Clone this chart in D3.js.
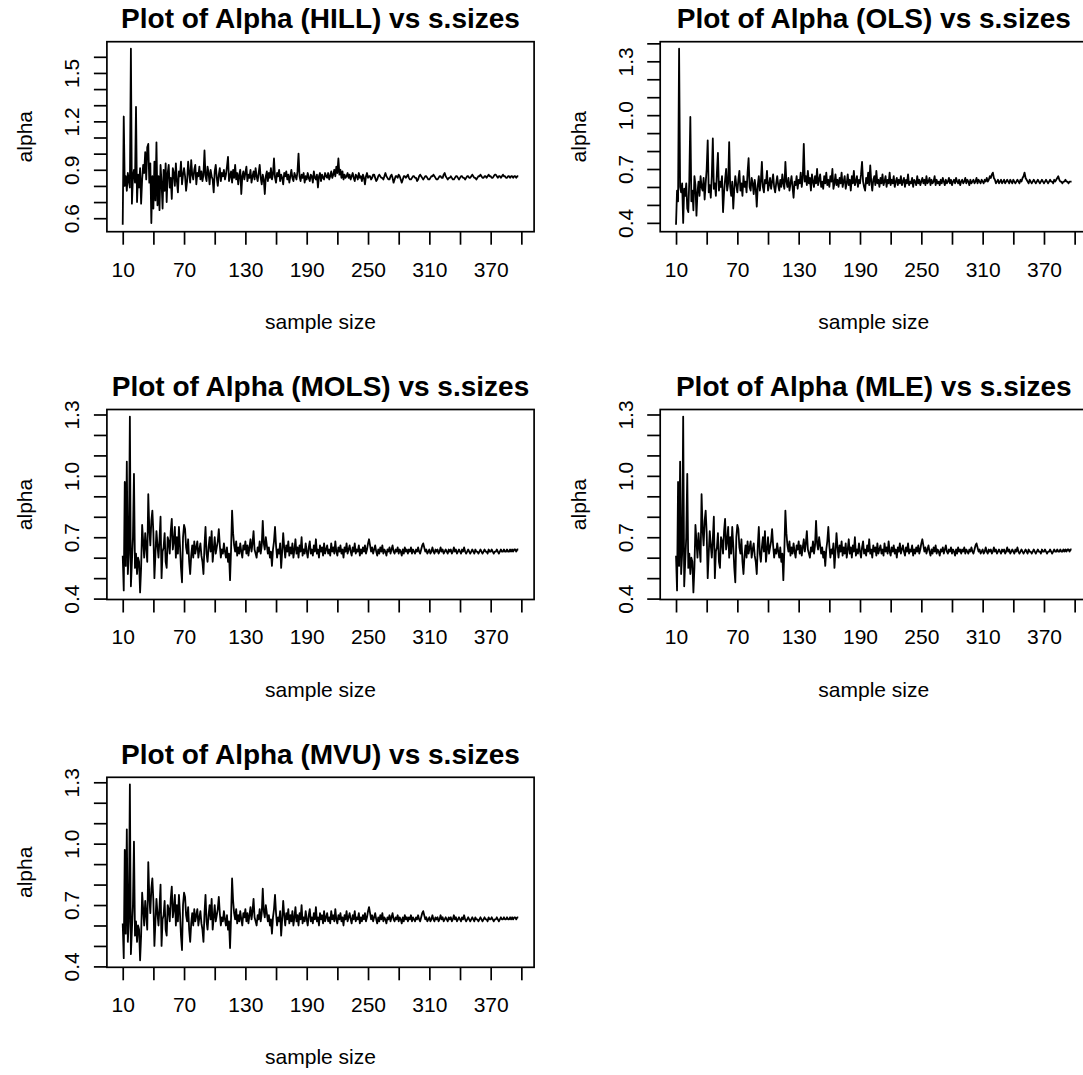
<!DOCTYPE html>
<html>
<head>
<meta charset="utf-8">
<script src="https://cdn.jsdelivr.net/npm/d3@7"></script>
<style>
  body { margin: 0; background: #fff; }
  svg { display: block; font-family: "Liberation Sans", Arial, Helvetica, sans-serif; }
</style>
</head>
<body>
<div id="chart"></div>
<script>
// sample sizes (x) shared by every panel
const sampleSizes = [
  10,11,12,13,14,15,16,17,18,19,20,21,22,23,24,25,26,27,28,29,
  30,31,32,33,34,35,36,37,38,39,40,41,42,43,44,45,46,47,48,49,
  50,51,52,53,54,55,56,57,58,59,60,61,62,63,64,65,66,67,68,69,
  70,71,72,73,74,75,76,77,78,79,80,81,82,83,84,85,86,87,88,89,
  90,91,92,93,94,95,96,97,98,99,100,101,102,103,104,105,106,107,108,109,
  110,111,112,113,114,115,116,117,118,119,120,121,122,123,124,125,126,127,128,129,
  130,131,132,133,134,135,136,137,138,139,140,141,142,143,144,145,146,147,148,149,
  150,151,152,153,154,155,156,157,158,159,160,161,162,163,164,165,166,167,168,169,
  170,171,172,173,174,175,176,177,178,179,180,181,182,183,184,185,186,187,188,189,
  190,191,192,193,194,195,196,197,198,199,200,201,202,203,204,205,206,207,208,209,
  210,211,212,213,214,215,216,217,218,219,220,221,222,223,224,225,226,227,228,229,
  230,231,232,233,234,235,236,237,238,239,240,241,242,243,244,245,246,247,248,249,
  250,251,252,253,254,255,256,257,258,259,260,261,262,263,264,265,266,267,268,269,
  270,271,272,273,274,275,276,277,278,279,280,281,282,283,284,285,286,287,288,289,
  290,291,292,293,294,295,296,297,298,299,300,301,302,303,304,305,306,307,308,309,
  310,311,312,313,314,315,316,317,318,319,320,321,322,323,324,325,326,327,328,329,
  330,331,332,333,334,335,336,337,338,339,340,341,342,343,344,345,346,347,348,349,
  350,351,352,353,354,355,356,357,358,359,360,361,362,363,364,365,366,367,368,369,
  370,371,372,373,374,375,376,377,378,379,380,381,382,383,384,385,386,387,388,389,
  390,391,392,393,394,395,396,397];

const alphaHill = [
  0.56,1.23,0.80,0.86,0.77,0.88,0.83,0.79,1.65,0.69,0.86,0.90,0.82,1.29,0.70,0.87,0.79,0.91,0.69,0.84,
  0.93,0.88,1.01,0.84,1.04,1.06,0.82,0.94,0.57,0.86,0.66,0.95,0.71,1.07,0.68,0.86,0.65,0.93,0.82,0.66,
  0.90,0.77,0.94,0.70,0.88,0.93,0.79,0.85,0.72,0.91,0.88,0.80,0.94,0.83,0.76,0.89,0.86,0.95,0.81,0.87,
  0.91,0.86,0.77,0.83,0.95,0.88,0.82,0.96,0.87,0.84,0.90,0.93,0.81,0.88,0.86,0.92,0.84,0.89,0.83,0.87,
  1.02,0.86,0.83,0.92,0.88,0.81,0.90,0.86,0.84,0.76,0.89,0.93,0.85,0.80,0.87,0.91,0.83,0.88,0.86,0.90,
  0.84,0.87,0.92,0.98,0.83,0.86,0.89,0.82,0.90,0.85,0.93,0.84,0.88,0.81,0.87,0.90,0.75,0.86,0.89,0.84,
  0.88,0.92,0.83,0.87,0.85,0.90,0.82,0.86,0.89,0.84,0.91,0.86,0.83,0.88,0.93,0.85,0.81,0.87,0.84,0.75,
  0.86,0.89,0.83,0.88,0.85,0.91,0.84,0.87,0.97,0.85,0.82,0.88,0.86,0.90,0.83,0.87,0.85,0.81,0.88,0.86,
  0.89,0.84,0.87,0.82,0.86,0.90,0.85,0.83,0.88,0.86,0.84,0.89,1.00,0.86,0.83,0.87,0.85,0.88,0.82,0.86,
  0.84,0.88,0.85,0.83,0.87,0.86,0.82,0.89,0.85,0.84,0.87,0.79,0.86,0.88,0.83,0.87,0.85,0.84,0.88,0.86,
  0.85,0.88,0.84,0.86,0.89,0.85,0.87,0.90,0.86,0.92,0.88,0.97,0.87,0.90,0.85,0.89,0.84,0.87,0.85,0.86,
  0.88,0.85,0.87,0.84,0.86,0.88,0.85,0.83,0.87,0.86,0.84,0.88,0.85,0.86,0.83,0.87,0.85,0.81,0.86,0.88,
  0.85,0.86,0.86,0.84,0.85,0.87,0.87,0.85,0.83,0.84,0.86,0.87,0.86,0.85,0.85,0.84,0.86,0.88,0.86,0.85,
  0.84,0.84,0.86,0.87,0.85,0.82,0.84,0.86,0.86,0.85,0.87,0.86,0.84,0.82,0.84,0.86,0.86,0.85,0.86,0.87,
  0.85,0.84,0.84,0.85,0.86,0.86,0.85,0.85,0.83,0.84,0.86,0.87,0.86,0.85,0.84,0.85,0.86,0.86,0.85,0.84,
  0.84,0.85,0.86,0.86,0.87,0.86,0.85,0.84,0.84,0.85,0.86,0.86,0.85,0.85,0.87,0.88,0.86,0.85,0.84,0.85,
  0.85,0.86,0.85,0.84,0.84,0.85,0.86,0.86,0.85,0.84,0.85,0.86,0.86,0.85,0.85,0.84,0.85,0.86,0.86,0.85,
  0.85,0.86,0.87,0.86,0.85,0.85,0.84,0.85,0.86,0.86,0.87,0.86,0.85,0.85,0.86,0.86,0.85,0.86,0.87,0.86,
  0.86,0.85,0.85,0.86,0.87,0.87,0.86,0.85,0.86,0.86,0.85,0.86,0.87,0.86,0.86,0.85,0.85,0.86,0.86,0.85,
  0.86,0.86,0.85,0.86,0.86,0.85,0.86,0.86];

const alphaOls = [
  0.39,0.58,0.52,1.37,0.60,0.57,0.62,0.40,0.59,0.55,0.62,0.48,0.46,0.64,0.99,0.52,0.58,0.47,0.66,0.61,
  0.44,0.57,0.63,0.55,0.66,0.60,0.58,0.65,0.53,0.62,0.70,0.86,0.57,0.61,0.54,0.66,0.87,0.59,0.62,0.55,
  0.68,0.79,0.58,0.63,0.60,0.66,0.46,0.57,0.64,0.70,0.58,0.62,0.85,0.60,0.55,0.63,0.48,0.59,0.66,0.61,
  0.57,0.64,0.69,0.58,0.62,0.55,0.66,0.60,0.63,0.57,0.68,0.76,0.60,0.58,0.65,0.62,0.56,0.64,0.59,0.49,
  0.61,0.66,0.58,0.63,0.74,0.60,0.57,0.64,0.62,0.69,0.58,0.61,0.65,0.59,0.63,0.67,0.60,0.57,0.62,0.66,
  0.61,0.58,0.64,0.60,0.67,0.62,0.59,0.74,0.63,0.60,0.65,0.58,0.62,0.66,0.60,0.54,0.63,0.61,0.66,0.59,
  0.64,0.62,0.68,0.60,0.65,0.84,0.63,0.66,0.61,0.69,0.62,0.65,0.58,0.67,0.63,0.60,0.66,0.62,0.70,0.61,
  0.64,0.67,0.60,0.63,0.59,0.66,0.62,0.68,0.61,0.64,0.60,0.66,0.63,0.70,0.59,0.62,0.67,0.61,0.64,0.60,
  0.65,0.62,0.68,0.60,0.63,0.66,0.59,0.62,0.67,0.61,0.64,0.58,0.66,0.62,0.69,0.61,0.63,0.66,0.60,0.64,
  0.62,0.67,0.74,0.63,0.60,0.58,0.65,0.62,0.68,0.61,0.72,0.63,0.58,0.64,0.66,0.61,0.69,0.62,0.64,0.60,
  0.65,0.62,0.67,0.61,0.63,0.66,0.60,0.64,0.62,0.68,0.61,0.64,0.62,0.66,0.60,0.63,0.65,0.61,0.64,0.62,
  0.66,0.61,0.63,0.65,0.60,0.64,0.62,0.67,0.61,0.63,0.62,0.65,0.60,0.64,0.63,0.61,0.66,0.62,0.64,0.61,
  0.63,0.65,0.62,0.64,0.61,0.66,0.62,0.63,0.65,0.61,0.64,0.62,0.63,0.66,0.61,0.64,0.62,0.63,0.61,0.64,
  0.62,0.65,0.63,0.61,0.64,0.62,0.63,0.65,0.62,0.64,0.61,0.63,0.64,0.62,0.65,0.63,0.62,0.64,0.61,0.63,
  0.64,0.62,0.63,0.65,0.62,0.64,0.63,0.61,0.64,0.62,0.63,0.64,0.62,0.63,0.65,0.62,0.64,0.63,0.62,0.64,
  0.63,0.62,0.64,0.63,0.65,0.63,0.64,0.66,0.65,0.67,0.68,0.65,0.64,0.62,0.63,0.64,0.62,0.63,0.64,0.62,
  0.63,0.64,0.62,0.63,0.64,0.63,0.62,0.64,0.63,0.62,0.64,0.63,0.62,0.63,0.64,0.63,0.62,0.64,0.63,0.65,
  0.66,0.68,0.65,0.64,0.63,0.62,0.64,0.63,0.62,0.63,0.64,0.63,0.62,0.63,0.64,0.63,0.62,0.63,0.64,0.63,
  0.62,0.63,0.64,0.63,0.62,0.63,0.64,0.63,0.63,0.62,0.64,0.63,0.64,0.65,0.66,0.64,0.63,0.63,0.62,0.63,
  0.63,0.64,0.63,0.63,0.62,0.63,0.63,0.63];

const alphaMols = [
  0.61,0.44,0.97,0.56,1.07,0.52,0.62,1.29,0.46,0.58,0.70,1.01,0.55,0.62,0.52,0.60,0.58,0.43,0.55,0.76,
  0.68,0.60,0.72,0.65,0.58,0.91,0.74,0.66,0.78,0.83,0.72,0.50,0.62,0.73,0.66,0.60,0.69,0.80,0.50,0.63,
  0.65,0.72,0.58,0.55,0.70,0.68,0.62,0.73,0.79,0.64,0.68,0.75,0.60,0.70,0.62,0.75,0.66,0.55,0.48,0.70,
  0.76,0.74,0.65,0.62,0.69,0.58,0.52,0.61,0.66,0.60,0.68,0.62,0.65,0.68,0.60,0.64,0.67,0.61,0.58,0.52,
  0.66,0.75,0.62,0.58,0.65,0.70,0.63,0.73,0.58,0.64,0.70,0.62,0.65,0.68,0.74,0.66,0.60,0.64,0.62,0.67,
  0.63,0.60,0.65,0.58,0.62,0.49,0.64,0.83,0.72,0.66,0.63,0.68,0.61,0.65,0.62,0.67,0.63,0.60,0.66,0.64,
  0.68,0.62,0.66,0.61,0.65,0.69,0.63,0.67,0.73,0.64,0.62,0.60,0.65,0.63,0.68,0.62,0.66,0.78,0.67,0.64,
  0.70,0.66,0.62,0.65,0.60,0.63,0.56,0.64,0.68,0.75,0.66,0.60,0.64,0.62,0.67,0.55,0.63,0.72,0.65,0.60,
  0.66,0.63,0.68,0.61,0.65,0.62,0.67,0.60,0.64,0.69,0.62,0.65,0.60,0.66,0.63,0.70,0.61,0.64,0.62,0.67,
  0.63,0.60,0.65,0.68,0.62,0.64,0.61,0.66,0.63,0.69,0.62,0.64,0.60,0.66,0.63,0.65,0.61,0.67,0.62,0.64,
  0.66,0.62,0.64,0.61,0.67,0.63,0.65,0.62,0.68,0.63,0.61,0.65,0.63,0.66,0.62,0.64,0.60,0.65,0.63,0.67,
  0.62,0.64,0.66,0.63,0.61,0.65,0.63,0.67,0.62,0.64,0.63,0.66,0.61,0.64,0.62,0.65,0.63,0.66,0.62,0.64,
  0.67,0.69,0.66,0.63,0.65,0.62,0.64,0.66,0.63,0.61,0.64,0.62,0.65,0.63,0.66,0.62,0.64,0.63,0.61,0.64,
  0.63,0.65,0.62,0.64,0.66,0.63,0.62,0.64,0.63,0.65,0.62,0.64,0.63,0.61,0.64,0.62,0.65,0.63,0.64,0.62,
  0.64,0.63,0.65,0.62,0.64,0.63,0.62,0.64,0.63,0.65,0.63,0.62,0.64,0.66,0.67,0.65,0.63,0.64,0.62,0.63,
  0.64,0.62,0.63,0.65,0.63,0.62,0.64,0.63,0.64,0.62,0.63,0.65,0.63,0.64,0.62,0.63,0.64,0.63,0.62,0.64,
  0.63,0.64,0.62,0.63,0.65,0.63,0.64,0.62,0.63,0.64,0.63,0.62,0.64,0.63,0.65,0.63,0.62,0.63,0.64,0.63,
  0.62,0.63,0.64,0.63,0.62,0.64,0.63,0.63,0.62,0.63,0.64,0.63,0.62,0.63,0.64,0.63,0.63,0.62,0.64,0.63,
  0.63,0.64,0.63,0.62,0.63,0.63,0.64,0.63,0.62,0.63,0.64,0.63,0.63,0.64,0.63,0.63,0.64,0.63,0.63,0.64,
  0.63,0.64,0.63,0.64,0.64,0.63,0.64,0.64];

const alphaMle = [
  0.61,0.44,0.97,0.56,1.07,0.52,0.62,1.29,0.46,0.58,0.70,1.01,0.55,0.62,0.52,0.60,0.58,0.43,0.55,0.76,
  0.68,0.60,0.72,0.65,0.58,0.91,0.74,0.66,0.78,0.83,0.72,0.50,0.62,0.73,0.66,0.60,0.69,0.80,0.50,0.63,
  0.65,0.72,0.58,0.55,0.70,0.68,0.62,0.73,0.79,0.64,0.68,0.75,0.60,0.70,0.62,0.75,0.66,0.55,0.48,0.70,
  0.76,0.74,0.65,0.62,0.69,0.58,0.52,0.61,0.66,0.60,0.68,0.62,0.65,0.68,0.60,0.64,0.67,0.61,0.58,0.52,
  0.66,0.75,0.62,0.58,0.65,0.70,0.63,0.73,0.58,0.64,0.70,0.62,0.65,0.68,0.74,0.66,0.60,0.64,0.62,0.67,
  0.63,0.60,0.65,0.58,0.62,0.49,0.64,0.83,0.72,0.66,0.63,0.68,0.61,0.65,0.62,0.67,0.63,0.60,0.66,0.64,
  0.68,0.62,0.66,0.61,0.65,0.69,0.63,0.67,0.73,0.64,0.62,0.60,0.65,0.63,0.68,0.62,0.66,0.78,0.67,0.64,
  0.70,0.66,0.62,0.65,0.60,0.63,0.56,0.64,0.68,0.75,0.66,0.60,0.64,0.62,0.67,0.55,0.63,0.72,0.65,0.60,
  0.66,0.63,0.68,0.61,0.65,0.62,0.67,0.60,0.64,0.69,0.62,0.65,0.60,0.66,0.63,0.70,0.61,0.64,0.62,0.67,
  0.63,0.60,0.65,0.68,0.62,0.64,0.61,0.66,0.63,0.69,0.62,0.64,0.60,0.66,0.63,0.65,0.61,0.67,0.62,0.64,
  0.66,0.62,0.64,0.61,0.67,0.63,0.65,0.62,0.68,0.63,0.61,0.65,0.63,0.66,0.62,0.64,0.60,0.65,0.63,0.67,
  0.62,0.64,0.66,0.63,0.61,0.65,0.63,0.67,0.62,0.64,0.63,0.66,0.61,0.64,0.62,0.65,0.63,0.66,0.62,0.64,
  0.67,0.69,0.66,0.63,0.65,0.62,0.64,0.66,0.63,0.61,0.64,0.62,0.65,0.63,0.66,0.62,0.64,0.63,0.61,0.64,
  0.63,0.65,0.62,0.64,0.66,0.63,0.62,0.64,0.63,0.65,0.62,0.64,0.63,0.61,0.64,0.62,0.65,0.63,0.64,0.62,
  0.64,0.63,0.65,0.62,0.64,0.63,0.62,0.64,0.63,0.65,0.63,0.62,0.64,0.66,0.67,0.65,0.63,0.64,0.62,0.63,
  0.64,0.62,0.63,0.65,0.63,0.62,0.64,0.63,0.64,0.62,0.63,0.65,0.63,0.64,0.62,0.63,0.64,0.63,0.62,0.64,
  0.63,0.64,0.62,0.63,0.65,0.63,0.64,0.62,0.63,0.64,0.63,0.62,0.64,0.63,0.65,0.63,0.62,0.63,0.64,0.63,
  0.62,0.63,0.64,0.63,0.62,0.64,0.63,0.63,0.62,0.63,0.64,0.63,0.62,0.63,0.64,0.63,0.63,0.62,0.64,0.63,
  0.63,0.64,0.63,0.62,0.63,0.63,0.64,0.63,0.62,0.63,0.64,0.63,0.63,0.64,0.63,0.63,0.64,0.63,0.63,0.64,
  0.63,0.64,0.63,0.64,0.64,0.63,0.64,0.64];

const alphaMvu = [
  0.61,0.44,0.97,0.56,1.07,0.52,0.62,1.29,0.46,0.58,0.70,1.01,0.55,0.62,0.52,0.60,0.58,0.43,0.55,0.76,
  0.68,0.60,0.72,0.65,0.58,0.91,0.74,0.66,0.78,0.83,0.72,0.50,0.62,0.73,0.66,0.60,0.69,0.80,0.50,0.63,
  0.65,0.72,0.58,0.55,0.70,0.68,0.62,0.73,0.79,0.64,0.68,0.75,0.60,0.70,0.62,0.75,0.66,0.55,0.48,0.70,
  0.76,0.74,0.65,0.62,0.69,0.58,0.52,0.61,0.66,0.60,0.68,0.62,0.65,0.68,0.60,0.64,0.67,0.61,0.58,0.52,
  0.66,0.75,0.62,0.58,0.65,0.70,0.63,0.73,0.58,0.64,0.70,0.62,0.65,0.68,0.74,0.66,0.60,0.64,0.62,0.67,
  0.63,0.60,0.65,0.58,0.62,0.49,0.64,0.83,0.72,0.66,0.63,0.68,0.61,0.65,0.62,0.67,0.63,0.60,0.66,0.64,
  0.68,0.62,0.66,0.61,0.65,0.69,0.63,0.67,0.73,0.64,0.62,0.60,0.65,0.63,0.68,0.62,0.66,0.78,0.67,0.64,
  0.70,0.66,0.62,0.65,0.60,0.63,0.56,0.64,0.68,0.75,0.66,0.60,0.64,0.62,0.67,0.55,0.63,0.72,0.65,0.60,
  0.66,0.63,0.68,0.61,0.65,0.62,0.67,0.60,0.64,0.69,0.62,0.65,0.60,0.66,0.63,0.70,0.61,0.64,0.62,0.67,
  0.63,0.60,0.65,0.68,0.62,0.64,0.61,0.66,0.63,0.69,0.62,0.64,0.60,0.66,0.63,0.65,0.61,0.67,0.62,0.64,
  0.66,0.62,0.64,0.61,0.67,0.63,0.65,0.62,0.68,0.63,0.61,0.65,0.63,0.66,0.62,0.64,0.60,0.65,0.63,0.67,
  0.62,0.64,0.66,0.63,0.61,0.65,0.63,0.67,0.62,0.64,0.63,0.66,0.61,0.64,0.62,0.65,0.63,0.66,0.62,0.64,
  0.67,0.69,0.66,0.63,0.65,0.62,0.64,0.66,0.63,0.61,0.64,0.62,0.65,0.63,0.66,0.62,0.64,0.63,0.61,0.64,
  0.63,0.65,0.62,0.64,0.66,0.63,0.62,0.64,0.63,0.65,0.62,0.64,0.63,0.61,0.64,0.62,0.65,0.63,0.64,0.62,
  0.64,0.63,0.65,0.62,0.64,0.63,0.62,0.64,0.63,0.65,0.63,0.62,0.64,0.66,0.67,0.65,0.63,0.64,0.62,0.63,
  0.64,0.62,0.63,0.65,0.63,0.62,0.64,0.63,0.64,0.62,0.63,0.65,0.63,0.64,0.62,0.63,0.64,0.63,0.62,0.64,
  0.63,0.64,0.62,0.63,0.65,0.63,0.64,0.62,0.63,0.64,0.63,0.62,0.64,0.63,0.65,0.63,0.62,0.63,0.64,0.63,
  0.62,0.63,0.64,0.63,0.62,0.64,0.63,0.63,0.62,0.63,0.64,0.63,0.62,0.63,0.64,0.63,0.63,0.62,0.64,0.63,
  0.63,0.64,0.63,0.62,0.63,0.63,0.64,0.63,0.62,0.63,0.64,0.63,0.63,0.64,0.63,0.63,0.64,0.63,0.63,0.64,
  0.63,0.64,0.63,0.64,0.64,0.63,0.64,0.64];

// tick positions and the labels R kept (the rest were dropped for overlap)
const xTicks = [10,40,70,100,130,160,190,220,250,280,310,340,370,400];
const xTickLabels = [10,70,130,190,250,310,370];
const yTicksHill = [0.6,0.7,0.8,0.9,1.0,1.1,1.2,1.3,1.4,1.5,1.6];
const yLabelsHill = [0.6,0.9,1.2,1.5];
const yTicksOls = [0.4,0.5,0.6,0.7,0.8,0.9,1.0,1.1,1.2,1.3,1.4];
const yTicksOther = [0.4,0.5,0.6,0.7,0.8,0.9,1.0,1.1,1.2,1.3];
const yLabelsOther = [0.4,0.7,1.0,1.3];

const panels = [
  {title: "Plot of Alpha (HILL) vs s.sizes", values: alphaHill, yTicks: yTicksHill, yLabels: yLabelsHill},
  {title: "Plot of Alpha (OLS) vs s.sizes", values: alphaOls, yTicks: yTicksOls, yLabels: yLabelsOther},
  {title: "Plot of Alpha (MOLS) vs s.sizes", values: alphaMols, yTicks: yTicksOther, yLabels: yLabelsOther},
  {title: "Plot of Alpha (MLE) vs s.sizes", values: alphaMle, yTicks: yTicksOther, yLabels: yLabelsOther},
  {title: "Plot of Alpha (MVU) vs s.sizes", values: alphaMvu, yTicks: yTicksOther, yLabels: yLabelsOther}
];

const width = 1083, height = 1075;
const colLeft = [106.9, 660.2];
const rowTop = [41.7, 409.5, 777.3];
const boxW = 427.2, boxH = 190;
const tickLen = 13;
const axisFont = 21, titleFont = 28;
const fmt = d3.format(".1f");

let svg = d3.select("#chart")
  .append("svg")
  .attr("width", width)
  .attr("height", height)
  .style("background", "#fff");

panels.forEach(function(p, k) {
  let left = colLeft[k % 2];
  let top = rowTop[Math.floor(k / 2)];
  let g = svg.append("g").attr("transform", "translate(" + left + "," + top + ")");

  // R style limits: data range stretched by 4% on each side
  let xe = d3.extent(sampleSizes), xp = 0.04 * (xe[1] - xe[0]);
  let xScale = d3.scaleLinear().domain([xe[0] - xp, xe[1] + xp]).range([0, boxW]);
  let ye = d3.extent(p.values), yp = 0.04 * (ye[1] - ye[0]);
  let yScale = d3.scaleLinear().domain([ye[0] - yp, ye[1] + yp]).range([boxH, 0]);

  let xLabelSet = xTickLabels.map(String);
  let xAxis = d3.axisBottom(xScale)
    .tickValues(xTicks)
    .tickSize(tickLen)
    .tickPadding(17)
    .tickFormat(d => xLabelSet.includes(String(d)) ? d : "");
  g.append("g")
    .attr("transform", "translate(0," + boxH + ")")
    .call(xAxis)
    .call(a => a.select(".domain").remove())
    .call(a => a.selectAll("line").attr("stroke", "#000").attr("stroke-width", 1.7))
    .call(a => a.selectAll("text").attr("fill", "#000").style("font-size", axisFont + "px")
      .style("font-family", "'Liberation Sans', Arial, sans-serif"));

  let yLabelSet = p.yLabels.map(fmt);
  let yAxis = d3.axisLeft(yScale)
    .tickValues(p.yTicks)
    .tickSize(tickLen)
    .tickFormat(d => yLabelSet.includes(fmt(d)) ? fmt(d) : "");
  g.append("g")
    .call(yAxis)
    .call(a => a.select(".domain").remove())
    .call(a => a.selectAll("line").attr("stroke", "#000").attr("stroke-width", 1.7))
    .call(a => a.selectAll("text")
      .attr("fill", "#000")
      .attr("x", 0).attr("dy", "0.35em")
      .attr("text-anchor", "middle")
      .attr("transform", "translate(-35,0) rotate(-90)")
      .style("font-size", axisFont + "px")
      .style("font-family", "'Liberation Sans', Arial, sans-serif"));

  // the series
  let line = d3.line()
    .x((d, i) => xScale(sampleSizes[i]))
    .y(d => yScale(d));
  g.append("path")
    .datum(p.values)
    .attr("d", line)
    .attr("fill", "none")
    .attr("stroke", "#000")
    .attr("stroke-width", 1.8)
    .attr("stroke-linejoin", "round");

  // plot box
  g.append("rect")
    .attr("width", boxW)
    .attr("height", boxH)
    .attr("fill", "none")
    .attr("stroke", "#000")
    .attr("stroke-width", 1.7);

  // title and axis names
  g.append("text")
    .attr("x", boxW / 2)
    .attr("y", -13.5)
    .attr("text-anchor", "middle")
    .style("font-size", titleFont + "px")
    .style("font-weight", "bold")
    .text(p.title);

  g.append("text")
    .attr("x", boxW / 2)
    .attr("y", boxH + 97)
    .attr("text-anchor", "middle")
    .style("font-size", axisFont + "px")
    .text("sample size");

  g.append("text")
    .attr("transform", "translate(-82," + (boxH / 2) + ") rotate(-90)")
    .attr("dy", "0.35em")
    .attr("text-anchor", "middle")
    .style("font-size", axisFont + "px")
    .text("alpha");
});
</script>
</body>
</html>
